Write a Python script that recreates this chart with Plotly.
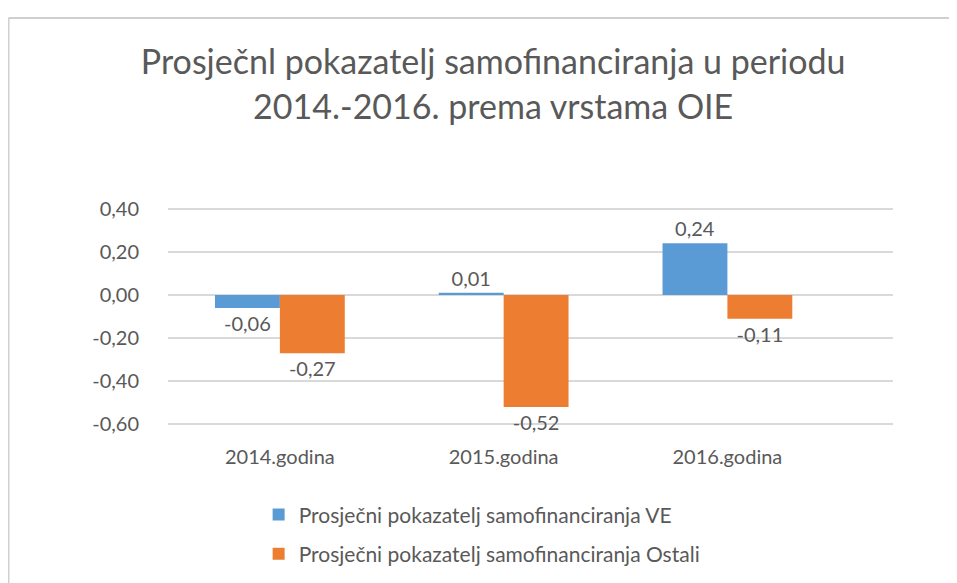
import plotly.graph_objects as go

categories = ["2014.godina", "2015.godina", "2016.godina"]
series_names = ["Prosječni pokazatelj samofinanciranja VE",
                "Prosječni pokazatelj samofinanciranja Ostali"]
values_ve = [-0.06, 0.01, 0.24]
values_ostali = [-0.27, -0.52, -0.11]
tick_values = [0.4, 0.2, 0.0, -0.2, -0.4, -0.6]
tick_labels = ["0,40", "0,20", "0,00", "-0,20", "-0,40", "-0,60"]
colors = ["#5B9BD5", "#ED7D31"]

text_color = "#595959"
fig = go.Figure()
for name, vals, col in zip(series_names, [values_ve, values_ostali], colors):
    fig.add_trace(go.Bar(
        x=categories, y=vals, name=name, legendgroup=name,
        marker=dict(color=col, line=dict(width=0)),
        texttemplate="%{y:.2f}", textposition="outside",
        textfont=dict(size=20, color=text_color),
        cliponaxis=False,
    ))

border = dict(color="#D0D0D0", width=2)
fig.update_layout(
    width=957, height=583,
    separators=",.",
    paper_bgcolor="white", plot_bgcolor="white",
    font=dict(family="Lato, Open Sans, sans-serif", color=text_color),
    title=dict(text="Prosječnl pokazatelj samofinanciranja u periodu<br>2014.-2016. prema vrstama OIE",
               x=0.507, xanchor="center", y=0.886, yanchor="middle",
               font=dict(size=34, color=text_color)),
    margin=dict(l=160, r=72, t=190, b=156),
    barmode="group", bargap=0.42, bargroupgap=0.0,
    showlegend=True,
    legend=dict(orientation="v", x=0.125, xanchor="left", y=-0.25, yanchor="top",
                traceorder="grouped", tracegroupgap=9, itemwidth=30,
                font=dict(size=21, color=text_color)),
    shapes=[
        dict(type="line", xref="paper", yref="paper", x0=-0.22, x1=1.098, y0=1.76, y1=1.76,
             line=border, layer="below"),
        dict(type="line", xref="paper", yref="paper", x0=-0.22, x1=-0.22, y0=-0.655, y1=1.76,
             line=border, layer="below"),
    ],
)
fig.update_xaxes(range=[-0.5, 2.74], showgrid=False, showline=False, ticks="",
                 tickfont=dict(size=20, color=text_color), ticklabelstandoff=8)
fig.update_yaxes(range=[-0.65, 0.45], tickvals=tick_values, ticktext=tick_labels,
                 showgrid=True, gridcolor="#D9D9D9", gridwidth=1.5,
                 zeroline=True, zerolinecolor="#D9D9D9", zerolinewidth=1.5,
                 showline=False, ticks="", ticklabelstandoff=28,
                 tickfont=dict(size=20, color=text_color))

fig.write_html("out.html")
